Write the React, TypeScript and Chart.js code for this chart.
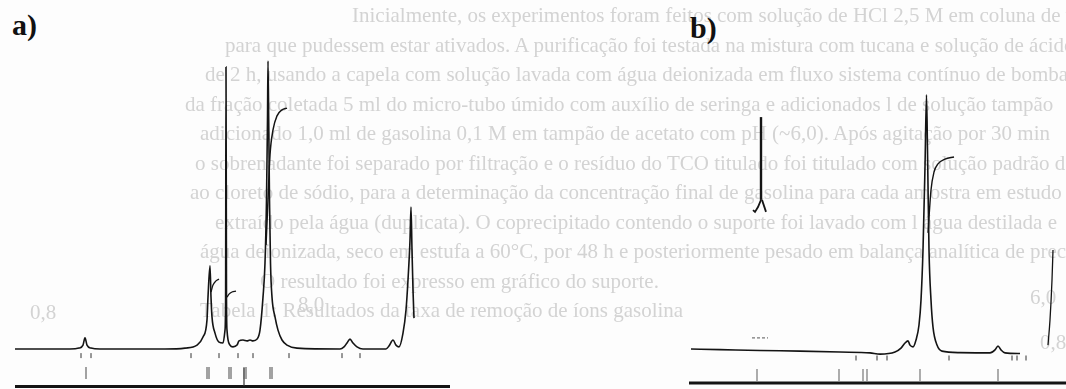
import React, { useEffect, useRef } from "react";
import { Chart, registerables } from "chart.js";

Chart.register(...registerables);

// ---------- Panel a) chromatogram (retention time, signal) ----------
const traceATime = [
  0, 5.5, 6.4, 6.8, 7.0, 7.2, 7.6, 8.5, 15.0, 17.0, 18.2, 18.8, 19.2, 19.3, 19.5, 19.6, 19.7, 20.0, 20.4, 20.8,
  21.0, 21.06, 21.1, 21.15, 21.2, 21.5, 21.8, 22.2, 22.4, 22.8, 23.2, 23.5, 23.8, 24.2, 24.5, 24.8, 25.0, 25.15,
  25.25, 25.3, 25.37, 25.45, 25.55, 25.7, 26.0, 26.3, 26.7, 27.2, 28.2, 32.5, 32.9, 33.2, 33.5, 33.8, 34.2, 34.8,
  37.1, 37.4, 37.8, 38.1, 38.4, 38.8, 39.1, 39.3, 39.5, 39.6, 39.7, 39.8, 39.9,
];
const traceASignal = [
  0, 0, 0.3, 1.3, 3.7, 1.3, 0.3, 0, 0, 0.3, 1.3, 4.0, 9.7, 17.3, 27.7, 17.3, 10.7, 5.3, 2.3, 2.0,
  6.3, 16.3, 94.0, 16.3, 6.3, 1.3, 0.7, 1.3, 2.7, 3.0, 2.7, 3.0, 2.7, 3.3, 6.3, 17.3, 28.7, 49.7,
  76.3, 96.0, 76.3, 49.7, 28.7, 17.3, 10.7, 6.3, 3.0, 1.3, 0.3, 0, 0.7, 2.0, 3.3, 2.0, 0.7, 0,
  0, 1.0, 3.0, 1.3, 0.7, 5.3, 13.0, 23.0, 36.3, 47.3, 33.0, 19.7, 10.3,
];
// integration curves of panel a
const integA1Time = [19.6, 19.8, 20.1, 20.4];
const integA1Signal = [19.0, 21.3, 22.7, 23.3];
const integA2Time = [21.2, 21.4, 21.7, 22.1];
const integA2Signal = [17.3, 18.3, 19.0, 19.3];
const integA3Time = [25.1, 25.3, 25.5, 25.8, 26.2, 26.7, 27.2];
const integA3Signal = [34.7, 49.7, 64.7, 73.0, 77.7, 79.7, 80.3];
// event marks below the baseline
const smallMarksA = [6.6, 7.6, 17.6, 20.4, 22.3, 23.8, 27.4, 32.7, 34.5];
const lowMarksA = [7.1, 19.2, 19.4, 21.4, 21.6, 22.9, 23.1, 25.5, 25.7];
const axisRangeA = [0, 43.5];

// ---------- Panel b) chromatogram ----------
const traceBTime = [
  0.6, 3.5, 7.5, 11.5, 15.5, 18.5, 19.5, 21.0, 21.6, 22.0, 22.3, 22.5, 22.8, 23.1, 23.4, 23.6, 23.8, 24.0,
  24.15, 24.25, 24.4, 24.6, 24.8, 25.2, 25.7, 27.5, 30.5, 31.0, 31.3, 31.6, 32.0, 33.5,
];
const traceBSignal = [
  0, -0.2, -0.5, -0.7, -1.0, -1.3, -1.7, -1.0, 0.3, 2.0, 2.7, 1.3, 0.7, 3.0, 8.0, 16.3, 33.0, 60.7,
  84.7, 66.3, 33.0, 16.3, 7.3, 1.3, -0.7, -1.2, -1.3, -0.3, 1.0, -0.3, -1.3, -1.5,
];
const spikeBRightTime = [36.3, 36.5, 36.7, 36.8];
const spikeBRightSignal = [1.3, 9.7, 23.0, 33.0];
const integBTime = [24.3, 24.6, 24.9, 25.3, 26.0, 26.9];
const integBSignal = [38.7, 53.0, 59.0, 61.7, 63.3, 64.0];
const loneSpikeTime = [7.6, 7.6];
const loneSpikeSignal = [77.3, 49.7];
const loneLegLeftTime = [7.6, 7.3, 7.0, 6.8];
const loneLegLeftSignal = [49.7, 47.3, 45.7, 46.3];
const loneLegRightTime = [7.7, 7.9, 8.1];
const loneLegRightSignal = [49.7, 47.7, 45.7];
const dashBTime = [6.7, 8.3];
const dashBSignal = [3.7, 3.7];
const smallMarksB = [17.1, 19.2, 20.2, 26.4, 32.7, 33.2, 34.1];
const lowMarksB = [7.2, 15.4, 17.8, 18.2, 23.5, 31.3];
const axisRangeB = [0.4, 38.1];

const SIGNAL_MIN = -13.33;
const SIGNAL_MAX = 116.33;

// faint print-through text of the scanned page
const bgLines = [
  "Inicialmente, os experimentos foram feitos com solução de HCl 2,5 M em coluna de vidro",
  "para que pudessem estar ativados. A purificação foi testada na mistura com tucana e solução de ácido",
  "de 2 h, usando a capela com solução lavada com água deionizada em fluxo sistema contínuo de bomba",
  "da fração coletada 5 ml do micro-tubo úmido com auxílio de seringa e adicionados l de solução tampão",
  "adicionado 1,0 ml de gasolina 0,1 M em tampão de acetato com pH (~6,0). Após agitação por 30 min",
  "o sobrenadante foi separado por filtração e o resíduo do TCO titulado foi titulado com solução padrão de",
  "ao cloreto de sódio, para a determinação da concentração final de gasolina para cada amostra em estudo",
  "extraído pela água (duplicata). O coprecipitado contendo o suporte foi lavado com l água destilada e",
  "água deionizada, seco em estufa a 60°C, por 48 h e posteriormente pesado em balança analítica de precisão",
  "O resultado foi expresso em gráfico do suporte.",
  "Tabela 1: Resultados da taxa de remoção de íons gasolina",
];
const bgLineStarts = [352, 225, 205, 185, 200, 195, 190, 215, 200, 260, 200];
const bgNumbers = ["0,8", "8,0", "6,0", "0,8"];
const bgNumberLeft = [30, 298, 1030, 1040];
const bgNumberTop = [300, 292, 285, 330];

function pts(t: number[], s: number[]) {
  return t.map((x, i) => ({ x, y: s[i] }));
}
function flat(t: number[], y: number) {
  return t.map((x) => ({ x, y }));
}

const INK = "#141414";

function lineDs(data: any[], width = 1.6, color = INK, extra: any = {}) {
  return {
    data,
    borderColor: color,
    borderWidth: width,
    pointRadius: 0,
    pointHoverRadius: 0,
    fill: false,
    clip: false,
    cubicInterpolationMode: "monotone",
    ...extra,
  };
}
function marksDs(data: any[], radius: number, color: string, width: number) {
  return {
    data,
    showLine: false,
    pointStyle: "line",
    pointRotation: 90,
    pointRadius: radius,
    pointHoverRadius: radius,
    pointBorderColor: color,
    pointBorderWidth: width,
    borderColor: color,
    clip: false,
  };
}

function makeOptions(xMin: number, xMax: number) {
  return {
    animation: false,
    responsive: false,
    maintainAspectRatio: false,
    devicePixelRatio: 1,
    layout: { padding: 0, autoPadding: false },
    events: [],
    plugins: { legend: { display: false }, tooltip: { enabled: false } },
    scales: {
      x: { type: "linear", min: xMin, max: xMax, display: false },
      y: { type: "linear", min: SIGNAL_MIN, max: SIGNAL_MAX, display: false },
    },
  } as any;
}

export default function App() {
  const refA = useRef<HTMLCanvasElement>(null);
  const refB = useRef<HTMLCanvasElement>(null);

  useEffect(() => {
    document.body.style.margin = "0";
    const chartA = new Chart(refA.current!, {
      type: "line",
      data: {
        datasets: [
          lineDs(pts(traceATime, traceASignal), 1.6),
          lineDs(pts(integA1Time, integA1Signal), 1.3),
          lineDs(pts(integA2Time, integA2Signal), 1.3),
          lineDs(pts(integA3Time, integA3Signal), 1.5),
          marksDs(flat(smallMarksA, -2.2), 2.5, "#333", 1),
          marksDs(flat(lowMarksA, -8.0), 6, "#666", 1.2),
          lineDs(pts([22.9, 22.9], [-6.3, -12.3]), 1.2, "#333"),
          lineDs(flat(axisRangeA, -12.5), 3, INK, { cubicInterpolationMode: "default" }),
        ] as any,
      },
      options: makeOptions(-1.5, 44.5),
    });
    const chartB = new Chart(refB.current!, {
      type: "line",
      data: {
        datasets: [
          lineDs(pts(traceBTime, traceBSignal), 1.6),
          lineDs(pts(spikeBRightTime, spikeBRightSignal), 1.3),
          lineDs(pts(integBTime, integBSignal), 1.4),
          lineDs(pts(loneSpikeTime, loneSpikeSignal), 2.4),
          lineDs(pts(loneLegLeftTime, loneLegLeftSignal), 1.8, INK, { cubicInterpolationMode: "default" }),
          lineDs(pts(loneLegRightTime, loneLegRightSignal), 1.8, INK, { cubicInterpolationMode: "default" }),
          lineDs(pts(dashBTime, dashBSignal), 1, "#555", { borderDash: [3, 2] }),
          marksDs(flat(smallMarksB, -3.0), 2.5, "#333", 1),
          marksDs(flat(lowMarksB, -8.7), 6, "#777", 1.2),
          lineDs(flat(axisRangeB, -11.3), 3, INK, { cubicInterpolationMode: "default" }),
        ] as any,
      },
      options: makeOptions(-1.5, 38.1),
    });
    return () => {
      chartA.destroy();
      chartB.destroy();
    };
  }, []);

  const labelStyle: React.CSSProperties = {
    position: "absolute",
    fontFamily: "'Liberation Serif', 'DejaVu Serif', serif",
    fontWeight: "bold",
    fontSize: 30,
    lineHeight: "30px",
    color: "#111",
  };
  const bgStyle: React.CSSProperties = {
    position: "absolute",
    whiteSpace: "nowrap",
    fontFamily: "'Liberation Serif', serif",
    fontSize: 21,
    lineHeight: "24px",
    color: "#d3d3d3",
    filter: "blur(0.6px)",
  };

  return (
    <div
      style={{
        position: "fixed",
        left: 0,
        top: 0,
        width: 1066,
        height: 389,
        overflow: "hidden",
        background: "#fdfdfd",
      }}
    >
      {bgLines.map((txt, i) => (
        <div key={i} style={{ ...bgStyle, left: bgLineStarts[i], top: 3 + i * 29.5 }}>
          {txt}
        </div>
      ))}
      {bgNumbers.map((txt, i) => (
        <div key={"n" + i} style={{ ...bgStyle, left: bgNumberLeft[i], top: bgNumberTop[i] }}>
          {txt}
        </div>
      ))}
      <div style={{ ...labelStyle, left: 12, top: 10 }}>a)</div>
      <div style={{ ...labelStyle, left: 690, top: 13 }}>b)</div>
      <canvas ref={refA} width={460} height={389} style={{ position: "absolute", left: 0, top: 0 }} />
      <canvas ref={refB} width={396} height={389} style={{ position: "absolute", left: 670, top: 0 }} />
    </div>
  );
}
